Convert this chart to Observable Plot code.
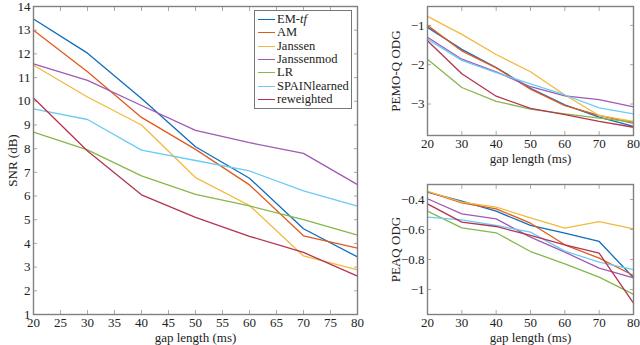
<!DOCTYPE html>
<html>
<head>
<meta charset="utf-8">
<script src="https://cdn.jsdelivr.net/npm/d3@7"></script>
<script src="https://cdn.jsdelivr.net/npm/@observablehq/plot@0.6"></script>
<style>
  body { margin: 0; background: white; }
  #wrap { position: relative; width: 640px; height: 345px; overflow: hidden; font-family: "Liberation Serif", serif; }
  #wrap svg { position: absolute; background: transparent; }
  #wrap svg text { font-family: "Liberation Serif", serif !important; }
  #legend { position: absolute; left: 254px; top: 10px; width: 96px; border: 1px solid #777; background: white; padding: 2px 0 2px 0; font-size: 12.5px; color: #222; }
  #legend .row { display: flex; align-items: center; height: 13.3px; line-height: 13px; }
  #legend .sw { width: 17px; height: 0; border-top: 1.4px solid; margin: 0 2px 0 3px; }
</style>
</head>
<body>
<div id="wrap"></div>
<script>
const gaps = [20, 30, 40, 50, 60, 70, 80];
const methods = ["EM-tf", "AM", "Janssen", "Janssenmod", "LR", "SPAINlearned", "reweighted"];
const colors = ["#0F6CBD", "#E05A1E", "#F3B93F", "#A059B5", "#86B74A", "#6CCBF2", "#B3344F"];

// SNR (dB)
const snrEMtf       = [13.47, 12.03, 10.12, 8.08, 6.75, 4.62, 3.43];
const snrAM         = [13.0, 11.25, 9.32, 7.97, 6.47, 4.32, 3.8];
const snrJanssen    = [11.52, 10.18, 9.0, 6.78, 5.6, 3.47, 2.88];
const snrJanssenmod = [11.58, 10.88, 9.82, 8.77, 8.25, 7.8, 6.48];
const snrLR         = [8.7, 7.95, 6.85, 6.07, 5.58, 5.0, 4.35];
const snrSPAIN      = [9.68, 9.23, 7.94, 7.5, 7.06, 6.22, 5.57];
const snrReweighted = [10.14, 7.9, 6.05, 5.1, 4.3, 3.62, 2.62];

// PEMO-Q ODG
const pemoEMtf       = [-1.05, -1.61, -2.07, -2.6, -3.02, -3.33, -3.57];
const pemoAM         = [-1.0, -1.65, -2.08, -2.62, -3.04, -3.29, -3.49];
const pemoJanssen    = [-0.77, -1.23, -1.74, -2.18, -2.77, -3.29, -3.44];
const pemoJanssenmod = [-1.3, -1.86, -2.18, -2.56, -2.79, -2.89, -3.07];
const pemoLR         = [-1.86, -2.58, -2.93, -3.13, -3.25, -3.36, -3.46];
const pemoSPAIN      = [-1.35, -1.89, -2.2, -2.49, -2.77, -3.1, -3.25];
const pemoReweighted = [-1.39, -2.23, -2.8, -3.11, -3.27, -3.44, -3.59];

// PEAQ ODG
const peaqEMtf       = [-0.351, -0.411, -0.478, -0.573, -0.624, -0.68, -0.922];
const peaqAM         = [-0.348, -0.422, -0.462, -0.558, -0.702, -0.791, -0.907];
const peaqJanssen    = [-0.345, -0.418, -0.451, -0.522, -0.591, -0.547, -0.596];
const peaqJanssenmod = [-0.395, -0.496, -0.529, -0.651, -0.751, -0.858, -0.922];
const peaqLR         = [-0.478, -0.589, -0.622, -0.747, -0.829, -0.918, -1.033];
const peaqSPAIN      = [-0.518, -0.536, -0.573, -0.618, -0.744, -0.818, -0.867];
const peaqReweighted = [-0.429, -0.551, -0.58, -0.64, -0.702, -0.758, -1.091];

const snrTicksX = [20, 25, 30, 35, 40, 45, 50, 55, 60, 65, 70, 75, 80];
const snrTicksY = [1, 2, 3, 4, 5, 6, 7, 8, 9, 10, 11, 12, 13, 14];
const odgTicksX = [20, 30, 40, 50, 60, 70, 80];
const pemoTicksY = [-1, -2, -3];
const peaqTicksY = [-0.4, -0.6, -0.8, -1];

const snrSeries = [snrEMtf, snrAM, snrJanssen, snrJanssenmod, snrLR, snrSPAIN, snrReweighted];
const pemoSeries = [pemoEMtf, pemoAM, pemoJanssen, pemoJanssenmod, pemoLR, pemoSPAIN, pemoReweighted];
const peaqSeries = [peaqEMtf, peaqAM, peaqJanssen, peaqJanssenmod, peaqLR, peaqSPAIN, peaqReweighted];

function toRows(series) {
  const rows = [];
  series.forEach((vals, i) => vals.forEach((v, j) => rows.push({method: methods[i], gap: gaps[j], value: v})));
  return rows;
}

const fmt = d => (d < 0 ? "\u2212" : "") + Math.abs(d);
const FONT = "Liberation Serif";

function panel({rows, width, height, mL, mR, mT, mB, yDomain, xTicks, yTicks, yLabel, yLabelOffset, xLabelOffset}) {
  return Plot.plot({
    width, height,
    marginLeft: mL, marginRight: mR, marginTop: mT, marginBottom: mB,
    style: {fontFamily: FONT, fontSize: "13px", color: "#222", background: "transparent"},
    x: {domain: [20, 80]},
    y: {domain: yDomain},
    color: {domain: methods, range: colors},
    marks: [
      Plot.axisX({ticks: xTicks, tickSize: -4, tickPadding: 7, stroke: "#aaa", tickFormat: fmt, fontFamily: FONT,
                  label: "gap length (ms)", labelArrow: "none", labelAnchor: "center", labelOffset: xLabelOffset}),
      Plot.axisX({anchor: "top", ticks: xTicks, tickSize: -4, stroke: "#aaa", tickFormat: () => "", label: null}),
      Plot.axisY({ticks: yTicks, tickSize: -4, tickPadding: 7, stroke: "#aaa", tickFormat: fmt, fontFamily: FONT,
                  label: yLabel, labelArrow: "none", labelAnchor: "center", labelOffset: yLabelOffset}),
      Plot.axisY({anchor: "right", ticks: yTicks, tickSize: -4, stroke: "#aaa", tickFormat: () => "", label: null}),
      Plot.line(rows, {x: "gap", y: "value", stroke: "method", strokeWidth: 1.3}),
      Plot.frame({stroke: "#808080", strokeWidth: 1.4})
    ]
  });
}

const wrap = document.getElementById("wrap");

const left = panel({rows: toRows(snrSeries), width: 370, height: 345, mL: 33, mR: 13, mT: 6, mB: 31,
  yDomain: [1, 14], xTicks: snrTicksX, yTicks: snrTicksY, yLabel: "SNR (dB)", yLabelOffset: 26, xLabelOffset: 27});
left.style.left = "0px"; left.style.top = "0px";
wrap.appendChild(left);

const rt = panel({rows: toRows(pemoSeries), width: 280, height: 170, mL: 67, mR: 7, mT: 6, mB: 35,
  yDomain: [-3.8, -0.52], xTicks: odgTicksX, yTicks: pemoTicksY, yLabel: "PEMO-Q ODG", yLabelOffset: 37, xLabelOffset: 27});
rt.style.left = "360px"; rt.style.top = "0px";
wrap.appendChild(rt);

const rb = panel({rows: toRows(peaqSeries), width: 280, height: 175, mL: 67, mR: 7, mT: 14, mB: 31,
  yDomain: [-1.167, -0.3], xTicks: odgTicksX, yTicks: peaqTicksY, yLabel: "PEAQ ODG", yLabelOffset: 37, xLabelOffset: 27});
rb.style.left = "360px"; rb.style.top = "170px";
wrap.appendChild(rb);

// Legend
const legend = document.createElement("div");
legend.id = "legend";
methods.forEach((m, i) => {
  const row = document.createElement("div");
  row.className = "row";
  const sw = document.createElement("span");
  sw.className = "sw";
  sw.style.borderTopColor = colors[i];
  const label = document.createElement("span");
  if (m === "EM-tf") { label.innerHTML = "EM-<i>tf</i>"; } else { label.textContent = m; }
  row.appendChild(sw); row.appendChild(label);
  legend.appendChild(row);
});
wrap.appendChild(legend);
</script>
</body>
</html>
